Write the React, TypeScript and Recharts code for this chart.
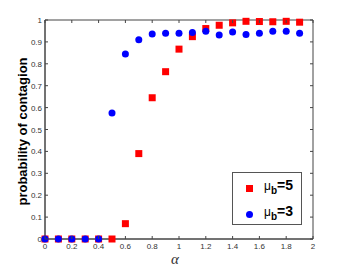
import * as React from "react";
import {
  ScatterChart,
  Scatter,
  XAxis,
  YAxis,
  ReferenceArea,
} from "recharts";

const alphaValues = [0, 0.1, 0.2, 0.3, 0.4, 0.5, 0.6, 0.7, 0.8, 0.9, 1.0, 1.1, 1.2, 1.3, 1.4, 1.5, 1.6, 1.7, 1.8, 1.9];
const mu5Values = [0, 0, 0, 0, 0, 0, 0.07, 0.39, 0.645, 0.764, 0.867, 0.924, 0.961, 0.976, 0.987, 0.994, 0.993, 0.992, 0.994, 0.99];
const mu3Values = [0, 0, 0, 0, 0, 0.575, 0.845, 0.91, 0.936, 0.94, 0.94, 0.943, 0.949, 0.931, 0.945, 0.934, 0.939, 0.949, 0.949, 0.939];

const xTicks = [0, 0.2, 0.4, 0.6, 0.8, 1, 1.2, 1.4, 1.6, 1.8, 2];
const yTicks = [0, 0.1, 0.2, 0.3, 0.4, 0.5, 0.6, 0.7, 0.8, 0.9, 1];

const mu5Data = alphaValues.map((a, i) => ({ x: a, y: mu5Values[i] }));
const mu3Data = alphaValues.map((a, i) => ({ x: a, y: mu3Values[i] }));

const PLOT_TOP = 20;
const PLOT_RIGHT = 313;
const AXIS = "#444";
const TICK_FONT = "'Liberation Sans', Arial, sans-serif";

const XTick = (props: any) => {
  const { x, y, payload } = props;
  return (
    <g>
      <line x1={x} x2={x} y1={y} y2={y - 3} stroke={AXIS} />
      <line x1={x} x2={x} y1={PLOT_TOP} y2={PLOT_TOP + 3} stroke={AXIS} />
      <text x={x} y={y + 10} textAnchor="middle" fontSize={8} fill="#333" fontFamily={TICK_FONT}>
        {payload.value}
      </text>
    </g>
  );
};

const YTick = (props: any) => {
  const { x, y, payload } = props;
  return (
    <g>
      <line x1={x} x2={x + 3} y1={y} y2={y} stroke={AXIS} />
      <line x1={PLOT_RIGHT} x2={PLOT_RIGHT - 3} y1={y} y2={y} stroke={AXIS} />
      <text x={x - 3} y={y + 3} textAnchor="end" fontSize={8} fill="#333" fontFamily={TICK_FONT}>
        {payload.value}
      </text>
    </g>
  );
};

const square = (props: any) => {
  const { cx, cy } = props;
  return <rect x={cx - 3.5} y={cy - 3.5} width={7} height={7} fill="#ff0000" />;
};

const dot = (props: any) => {
  const { cx, cy } = props;
  return <circle cx={cx} cy={cy} r={3.5} fill="#0000ff" />;
};

const legendItems = [
  { label: "5", marker: "square", color: "#ff0000" },
  { label: "3", marker: "circle", color: "#0000ff" },
];

// legend drawn as a plain box over the chart, like the matlab one
const ChartLegend = () => (
  <div
    style={{
      position: "absolute",
      left: 232,
      top: 172,
      width: 70,
      height: 53,
      border: "1px solid #555",
      background: "#fff",
      boxSizing: "border-box",
      fontFamily: TICK_FONT,
      color: "#000",
    }}
  >
    {legendItems.map((item, i) => (
      <div key={i} style={{ position: "absolute", left: 0, top: 6 + i * 26, height: 18, width: 68 }}>
        <div
          style={{
            position: "absolute",
            left: 13,
            top: 6,
            width: 7,
            height: 7,
            background: item.color,
            borderRadius: item.marker === "circle" ? "50%" : 0,
          }}
        />
        <div style={{ position: "absolute", left: 31, top: -2, whiteSpace: "nowrap", lineHeight: "16px" }}>
          <span style={{ fontSize: 12 }}>μ</span>
          <span style={{ fontSize: 10, fontWeight: "bold", position: "relative", top: 4 }}>b</span>
          <span style={{ fontSize: 14, fontWeight: "bold" }}>={item.label}</span>
        </div>
      </div>
    ))}
  </div>
);

export default function App() {
  return (
    <div style={{ position: "absolute", left: 0, top: 0, width: 346, height: 270, background: "#fff" }}>
      <ScatterChart width={346} height={270} margin={{ top: PLOT_TOP, right: 346 - PLOT_RIGHT, bottom: 0, left: 0 }}>
        <XAxis
          type="number"
          dataKey="x"
          domain={[0, 2]}
          ticks={xTicks}
          interval={0}
          tick={<XTick />}
          tickSize={0}
          tickMargin={0}
          tickLine={false}
          height={31}
          stroke={AXIS}
          label={{ value: "α", position: "insideBottom", offset: 6, dx: -4, fontSize: 15, fontStyle: "italic", fontFamily: "'Liberation Serif', serif", fill: "#333" }}
        />
        <YAxis
          type="number"
          dataKey="y"
          domain={[0, 1]}
          ticks={yTicks}
          interval={0}
          tick={<YTick />}
          tickSize={0}
          tickMargin={0}
          tickLine={false}
          width={45}
          stroke={AXIS}
          label={{
            value: "probability of contagion",
            angle: -90,
            position: "insideLeft",
            offset: 22,
            dy: 2,
            fontSize: 13,
            fontWeight: "bold",
            fontFamily: TICK_FONT,
            fill: "#000",
            style: { textAnchor: "middle" },
          }}
        />
        <ReferenceArea x1={0} x2={2} y1={0} y2={1} fill="none" stroke={AXIS} strokeOpacity={1} ifOverflow="visible" />
        <Scatter name="mu5" data={mu5Data} shape={square} isAnimationActive={false} />
        <Scatter name="mu3" data={mu3Data} shape={dot} isAnimationActive={false} />
      </ScatterChart>
      <ChartLegend />
    </div>
  );
}
